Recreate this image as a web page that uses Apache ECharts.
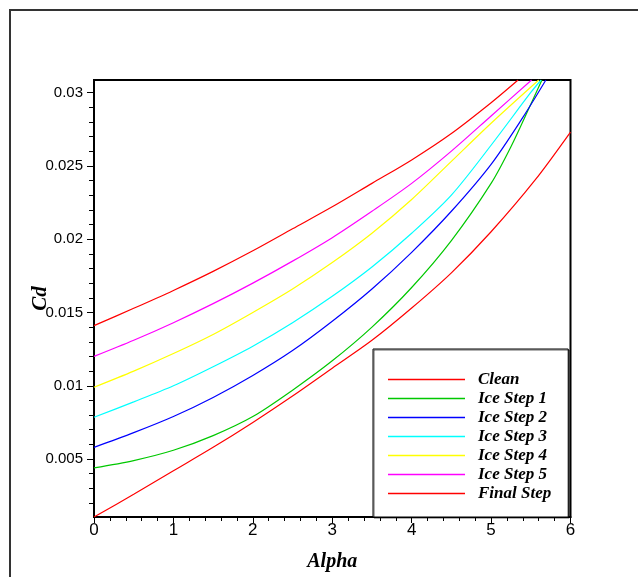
<!DOCTYPE html>
<html>
<head>
<meta charset="utf-8">
<script src="https://cdn.jsdelivr.net/npm/echarts@6/dist/echarts.min.js"></script>
<style>
  html, body { margin: 0; padding: 0; background: #fff; }
  #chart { width: 638px; height: 577px; }
</style>
</head>
<body>
<div id="chart"></div>
<script>
// Drag coefficient vs. angle of attack for the clean and iced sections
const seriesNames = ['Clean', 'Ice Step 1', 'Ice Step 2', 'Ice Step 3', 'Ice Step 4', 'Ice Step 5', 'Final Step'];
const seriesColors = ['#ff0000', '#00c800', '#0000ff', '#00ffff', '#ffff00', '#ff00ff', '#ff0000'];

const alphaClean = [0, 0.5, 1, 1.5, 2, 2.5, 3, 3.5, 4, 4.5, 5, 5.55, 6];
const cdClean    = [0.00105, 0.0026, 0.0042, 0.0058, 0.0075, 0.0093, 0.0112, 0.0131, 0.0153, 0.0177, 0.0205, 0.0240, 0.0273];

const alphaStep1 = [0, 0.5, 1, 1.5, 2, 2.5, 3, 3.5, 4, 4.5, 5, 5.25, 5.5, 5.64];
const cdStep1    = [0.0044, 0.0049, 0.0056, 0.0066, 0.0079, 0.0097, 0.0117, 0.0140, 0.0167, 0.0199, 0.0238, 0.0263, 0.0292, 0.03085];

const alphaStep2 = [0, 0.5, 1, 1.5, 2, 2.5, 3, 3.5, 4, 4.5, 5, 5.4, 5.69];
const cdStep2    = [0.0058, 0.0068, 0.0079, 0.0092, 0.0107, 0.0124, 0.0144, 0.0166, 0.0191, 0.0219, 0.0251, 0.0283, 0.03085];

const alphaStep3 = [0, 0.5, 1, 1.5, 2, 2.5, 3, 3.5, 4, 4.5, 5, 5.5, 5.63];
const cdStep3    = [0.00785, 0.0089, 0.0100, 0.0113, 0.0127, 0.0143, 0.0161, 0.0181, 0.0204, 0.0230, 0.0264, 0.0300, 0.03085];

const alphaStep4 = [0, 0.5, 1, 1.5, 2, 2.5, 3, 3.5, 4, 4.5, 5, 5.6];
const cdStep4    = [0.0099, 0.0110, 0.0122, 0.0135, 0.0150, 0.0166, 0.0184, 0.0204, 0.0227, 0.0253, 0.0279, 0.03085];

const alphaStep5 = [0, 0.5, 1, 1.5, 2, 2.5, 3, 3.5, 4, 4.5, 5, 5.51];
const cdStep5    = [0.0120, 0.0131, 0.0143, 0.0156, 0.0170, 0.0185, 0.0201, 0.0219, 0.0238, 0.0260, 0.0284, 0.03085];

const alphaFinal = [0, 0.5, 1, 1.5, 2, 2.5, 3, 3.5, 4, 4.5, 5, 5.34];
const cdFinal    = [0.0141, 0.01528, 0.0165, 0.0178, 0.0192, 0.0207, 0.0222, 0.0238, 0.0254, 0.0272, 0.0293, 0.03085];

// Axis ranges and tick positions
const xMin = 0, xMax = 6, xStep = 1;
const yMin = 0.00105, yMax = 0.03085;
const yMajorTicks = [0.005, 0.01, 0.015, 0.02, 0.025, 0.03];
const yMinorTicks = [0.002, 0.003, 0.004, 0.006, 0.007, 0.008, 0.009, 0.011, 0.012, 0.013, 0.014,
                     0.016, 0.017, 0.018, 0.019, 0.021, 0.022, 0.023, 0.024, 0.026, 0.027, 0.028, 0.029, 0.030];

const curves = [
  [alphaClean, cdClean],
  [alphaStep1, cdStep1],
  [alphaStep2, cdStep2],
  [alphaStep3, cdStep3],
  [alphaStep4, cdStep4],
  [alphaStep5, cdStep5],
  [alphaFinal, cdFinal]
];

const zip = (xs, ys) => xs.map((x, i) => [x, ys[i]]);

const serifBold = { fontFamily: '"Liberation Serif", "Times New Roman", serif', fontWeight: 'bold', fontStyle: 'italic', color: '#000' };

const chart = echarts.init(document.getElementById('chart'), null, { renderer: 'canvas' });

chart.setOption({
  animation: false,
  backgroundColor: '#fff',
  graphic: [{
    type: 'rect',
    shape: { x: 10, y: 10, width: 660, height: 600 },
    style: { fill: 'none', stroke: '#333', lineWidth: 2 },
    silent: true,
    z: 100
  }],
  grid: {
    left: 94, top: 80, width: 476.5, height: 438,
    show: true, borderColor: '#000', borderWidth: 2, backgroundColor: 'transparent'
  },
  legend: {
    orient: 'vertical',
    left: 373, top: 349,
    padding: [22, 17, 15, 15],
    icon: 'rect',
    itemWidth: 77, itemHeight: 1.5, itemGap: 2,
    backgroundColor: '#fff',
    borderColor: '#000', borderWidth: 1,
    shadowColor: 'rgba(0,0,0,0.6)', shadowOffsetX: 1, shadowOffsetY: 1,
    textStyle: Object.assign({ fontSize: 17, lineHeight: 15, padding: [0, 0, 0, 8] }, serifBold),
    data: seriesNames
  },
  xAxis: {
    type: 'value',
    min: xMin, max: xMax, interval: xStep,
    name: 'Alpha',
    nameLocation: 'middle',
    nameGap: 35,
    nameTextStyle: Object.assign({ fontSize: 20 }, serifBold),
    axisLine: { onZero: false, lineStyle: { color: '#000', width: 2 } },
    axisTick: { length: 6, lineStyle: { color: '#000', width: 1 } },
    minorTick: { show: true, splitNumber: 5, length: 4, lineStyle: { color: '#000', width: 1 } },
    splitLine: { show: false },
    axisLabel: { fontFamily: '"Liberation Sans", Arial, sans-serif', fontSize: 17, color: '#000', margin: 5 }
  },
  yAxis: [{
    type: 'value',
    min: yMin, max: yMax,
    name: 'Cd',
    nameLocation: 'middle',
    nameGap: 43,
    nameRotate: 90,
    nameMoveOverlap: false,
    nameTextStyle: Object.assign({ fontSize: 21 }, serifBold),
    axisLine: { onZero: false, lineStyle: { color: '#000', width: 2 } },
    axisTick: { length: 7, customValues: yMajorTicks, lineStyle: { color: '#000', width: 1 } },
    splitLine: { show: false },
    axisLabel: {
      customValues: yMajorTicks,
      fontFamily: '"Liberation Sans", Arial, sans-serif', fontSize: 15, color: '#000', margin: 11,
      formatter: v => String(+v.toFixed(4))
    }
  }, {
    type: 'value',
    min: yMin, max: yMax,
    position: 'left',
    axisLine: { show: false },
    axisTick: { length: 5, customValues: yMinorTicks, lineStyle: { color: '#000', width: 1 } },
    axisLabel: { show: false },
    splitLine: { show: false }
  }],
  series: curves.map(([xs, ys], i) => ({
    name: seriesNames[i],
    type: 'line',
    yAxisIndex: 0,
    data: zip(xs, ys),
    smooth: 0.3,
    symbol: 'none',
    clip: true,
    lineStyle: { color: seriesColors[i], width: 1.2 },
    itemStyle: { color: seriesColors[i] }
  }))
});
</script>
</body>
</html>
